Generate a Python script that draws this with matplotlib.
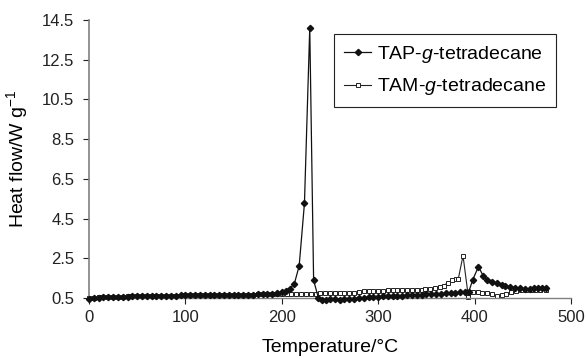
import matplotlib
matplotlib.use("Agg")
import matplotlib.pyplot as plt

plt.rcParams['font.family'] = ['Liberation Sans', 'DejaVu Sans']
plt.rcParams['mathtext.fontset'] = 'custom'
plt.rcParams['mathtext.rm'] = 'Liberation Sans'
plt.rcParams['mathtext.it'] = 'Liberation Sans:italic'

# ---- data ----
tap_t = [0, 5, 10, 15, 20, 25, 30, 35, 40, 45, 50, 55, 60, 65, 70, 75, 80, 85, 90, 95,
         100, 105, 110, 115, 120, 125, 130, 135, 140, 145, 150, 155, 160, 165, 170, 175,
         180, 185, 190, 195, 200, 204, 208, 213, 218, 223.5, 229, 233, 238, 242, 246,
         250, 255, 260, 265, 270, 275, 280, 285, 290, 295, 300, 305, 310, 315, 320, 325,
         330, 335, 340, 345, 350, 355, 360, 365, 370, 375, 380, 385, 390, 394, 398, 404,
         409, 413, 418, 423, 428, 432, 437, 442, 447, 452, 457, 462, 466, 470, 474]
tap_v = [0.47, 0.50, 0.52, 0.53, 0.54, 0.55, 0.56, 0.56, 0.57, 0.58, 0.58, 0.59, 0.60,
         0.60, 0.61, 0.61, 0.62, 0.62, 0.62, 0.63, 0.63, 0.63, 0.63, 0.64, 0.64, 0.64,
         0.64, 0.64, 0.65, 0.65, 0.65, 0.65, 0.66, 0.66, 0.67, 0.68, 0.69, 0.70, 0.72,
         0.74, 0.78, 0.84, 0.95, 1.22, 2.11, 5.27, 14.11, 1.39, 0.50, 0.42, 0.40,
         0.43, 0.44, 0.42, 0.45, 0.47, 0.46, 0.50, 0.52, 0.54, 0.55, 0.57, 0.58, 0.59,
         0.60, 0.61, 0.62, 0.63, 0.64, 0.65, 0.66, 0.68, 0.69, 0.70, 0.72, 0.73, 0.75,
         0.76, 0.78, 0.79, 0.82, 1.41, 2.08, 1.61, 1.41, 1.33, 1.25, 1.16, 1.12, 1.04,
         0.99, 0.98, 0.97, 0.97, 0.98, 0.99, 1.00, 1.02]

tam_t = [0, 5, 10, 15, 20, 25, 30, 35, 40, 45, 50, 55, 60, 65, 70, 75, 80, 85, 90, 95,
         100, 105, 110, 115, 120, 125, 130, 135, 140, 145, 150, 155, 160, 165, 170, 175,
         180, 185, 190, 195, 200, 205, 210, 215, 220, 225, 230, 235, 240, 245, 250, 255,
         260, 265, 270, 275, 280, 285, 290, 295, 300, 305, 310, 315, 320, 325, 330, 335,
         340, 345, 349, 354, 359, 364, 368, 372, 377, 381, 383, 388, 393.5, 398.5, 404,
         408, 413, 418, 423, 428, 433, 438, 443, 448, 453, 458, 463, 468, 474]
tam_v = [0.49, 0.51, 0.53, 0.54, 0.55, 0.56, 0.56, 0.57, 0.58, 0.58, 0.59, 0.59, 0.60,
         0.60, 0.61, 0.61, 0.62, 0.62, 0.62, 0.62, 0.63, 0.63, 0.63, 0.63, 0.64, 0.64,
         0.64, 0.64, 0.65, 0.65, 0.66, 0.66, 0.67, 0.67, 0.67, 0.68, 0.68, 0.69, 0.69,
         0.69, 0.70, 0.70, 0.70, 0.70, 0.70, 0.70, 0.70, 0.71, 0.77, 0.77, 0.77, 0.77,
         0.77, 0.77, 0.77, 0.77, 0.78, 0.85, 0.85, 0.85, 0.85, 0.85, 0.90, 0.90, 0.90,
         0.90, 0.90, 0.90, 0.90, 0.91, 0.97, 0.97, 0.99, 1.07, 1.12, 1.27, 1.40, 1.44,
         1.45, 2.63, 0.57, 0.79, 0.82, 0.77, 0.77, 0.69, 0.60, 0.65, 0.70, 0.78, 0.86,
         0.88, 0.88, 0.88, 0.88, 0.88, 0.88]

xticks = [0, 100, 200, 300, 400, 500]
yticks = [0.5, 2.5, 4.5, 6.5, 8.5, 10.5, 12.5, 14.5]

fig = plt.figure(figsize=(5.86, 3.59), dpi=100)
ax = fig.add_axes([89/586, 1-298/359, (571-89)/586, (298-20)/359])

ax.plot(tam_t, tam_v, color='#222222', lw=0.8, marker='s', ms=3.4,
        mfc='white', mec='#222222', mew=0.7, clip_on=False, label='TAM-$\\it{g}$-tetradecane', zorder=2)
ax.plot(tap_t, tap_v, color='#111111', lw=0.9, marker='D', ms=3.2,
        mfc='#111111', mec='#111111', clip_on=False, label='TAP-$\\it{g}$-tetradecane', zorder=3)

ax.set_xlim(0, 500)
ax.set_ylim(0.5, 14.5)
ax.set_xticks(xticks)
ax.set_yticks(yticks)
ax.set_xticklabels([str(v) for v in xticks])
ax.set_yticklabels([f"{v:.1f}" for v in yticks])
for s in ['top', 'right']:
    ax.spines[s].set_visible(False)
ax.spines['left'].set_color('#808080')
ax.spines['bottom'].set_color('#808080')
ax.spines['left'].set_linewidth(1.2)
ax.spines['bottom'].set_linewidth(1.0)
ax.tick_params(axis='both', labelsize=12, colors='#222222', width=0.8)
ax.tick_params(axis='y', length=4, pad=6.5)
ax.tick_params(axis='x', length=4, pad=4.5)

ax.set_xlabel('Temperature/°C', fontsize=14, labelpad=10)
ax.set_ylabel('Heat flow/W g$^{\\mathregular{-1}}$', fontsize=14, labelpad=9)

handles, labels = ax.get_legend_handles_labels()
leg = ax.legend(handles[::-1], labels[::-1], loc='upper right',
                bbox_to_anchor=((556-89)/482, (298-34)/278), fontsize=14,
                frameon=True, fancybox=False, edgecolor='#222222', framealpha=1,
                handlelength=1.4, handletextpad=0.3, borderpad=0.5, labelspacing=0.6,
                borderaxespad=0)
leg.get_frame().set_linewidth(0.8)

fig.savefig('out.png', dpi=100)
